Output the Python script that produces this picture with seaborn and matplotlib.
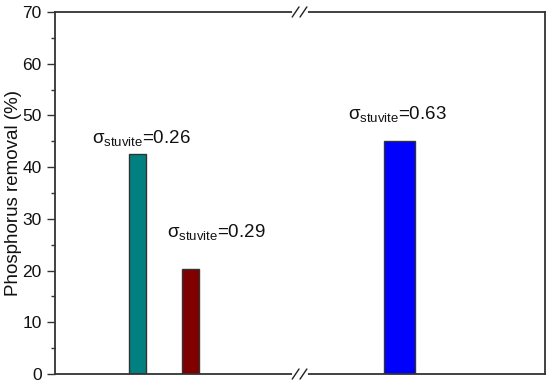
import matplotlib
matplotlib.use("Agg")
import matplotlib.pyplot as plt
import seaborn as sns
import pandas as pd

# data
samples = ["A", "B", "C"]
removal = [42.5, 20.4, 45.0]
sigma_labels = ["0.26", "0.29", "0.63"]
bar_colors = ["#008080", "#800000", "#0000FF"]

# layout on a 0-10 x scale (axis is broken at 5)
centers = [1.69, 2.77, 7.03]
widths = [0.35, 0.35, 0.63]
label_xy = [(0.76, 44.7), (2.29, 26.5), (5.98, 49.3)]

sns.set_style("ticks")
plt.rcParams["font.family"] = ["Liberation Sans", "DejaVu Sans"]
plt.rcParams["mathtext.fontset"] = "custom"
plt.rcParams["mathtext.rm"] = "Liberation Sans"
plt.rcParams["mathtext.it"] = "Liberation Sans"
plt.rcParams["mathtext.bf"] = "Liberation Sans:bold"

df = pd.DataFrame({"x": centers, "removal": removal, "sample": samples})

fig = plt.figure(figsize=(5.5, 3.86), dpi=100)
ax = fig.add_axes([0.1, 0.031, 0.891, 0.938])

sns.barplot(data=df, x="x", y="removal", hue="sample", palette=bar_colors,
            native_scale=True, dodge=False, legend=False, ax=ax, saturation=1,
            edgecolor="#333333", linewidth=1)

# give each bar its own width
for p, c, w in zip(ax.patches, centers, widths):
    p.set_width(w)
    p.set_x(c - w / 2)

for (tx, ty), s in zip(label_xy, sigma_labels):
    ax.text(tx, ty, r"$\sigma_{\mathrm{stuvite}}$=" + s, fontsize=13.5,
            va="baseline", ha="left", color="#111111")

ax.set_xlim(0, 10)
ax.set_ylim(0, 70)
ax.set_yticks(range(0, 71, 10))
ax.set_yticks(range(5, 70, 10), minor=True)
ax.set_xticks([])
ax.set_xlabel("")
ax.set_ylabel("Phosphorus removal (%)", fontsize=13.5, color="#111111", labelpad=0)
ax.tick_params(axis="y", which="major", length=6, width=1, labelsize=12.5,
               colors="#333333", labelcolor="#111111")
ax.tick_params(axis="y", which="minor", length=3, width=1, colors="#333333")
for sp in ax.spines.values():
    sp.set_visible(True)
    sp.set_color("#333333")
    sp.set_linewidth(1.3)

# axis break marks on top and bottom spines
for yb in (0, 1):
    ax.plot([0.487, 0.512], [yb, yb], transform=ax.transAxes, color="white",
            lw=3, clip_on=False, zorder=5)
    for xb in (0.491, 0.507):
        ax.plot([xb - 0.007, xb + 0.007], [yb - 0.014, yb + 0.014],
                transform=ax.transAxes, color="#222222", lw=1,
                clip_on=False, zorder=6)

fig.savefig("out.png", dpi=100)
